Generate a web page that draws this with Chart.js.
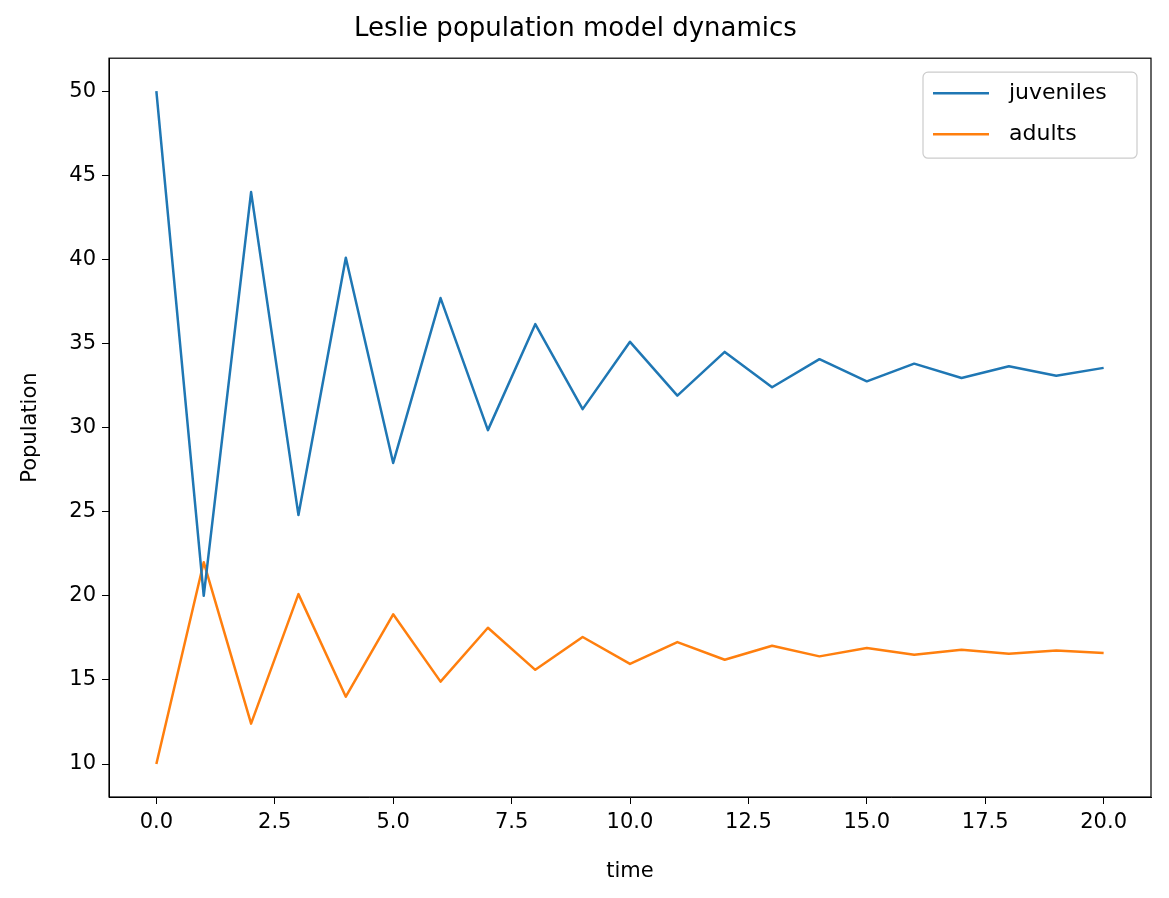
<!DOCTYPE html>
<html>
<head>
<meta charset="utf-8">
<script src="https://cdn.jsdelivr.net/npm/chart.js@4"></script>
<style>
  body { margin: 0; background: #fff; }
  #wrap { width: 1169px; height: 898px; }
</style>
</head>
<body>
<div id="wrap"><canvas id="leslie-chart"></canvas></div>
<script>
const FONT = "'DejaVu Sans', sans-serif";
const BLUE = "#1f77b4";
const ORANGE = "#ff7f0e";

const TIMES = [0, 1, 2, 3, 4, 5, 6, 7, 8, 9, 10, 11, 12, 13, 14, 15, 16, 17, 18, 19, 20];
const JUVENILES = [50, 20.0, 44.0, 24.8, 40.1, 27.9, 37.7, 29.85, 36.15, 31.1, 35.1, 31.9, 34.5, 32.4, 34.07, 32.75, 33.8, 32.95, 33.65, 33.08, 33.55];
const ADULTS = [10, 22.0, 12.4, 20.1, 14.0, 18.9, 14.9, 18.1, 15.6, 17.55, 15.95, 17.25, 16.2, 17.03, 16.4, 16.9, 16.5, 16.8, 16.55, 16.75, 16.6];
const X_TICKS = [0, 2.5, 5, 7.5, 10, 12.5, 15, 17.5, 20];
const Y_TICKS = [10, 15, 20, 25, 30, 35, 40, 45, 50];

function toPoints(values) {
    return TIMES.map((t, i) => ({ x: t, y: values[i] }));
}

// frame round the plot area and the legend box in its top right corner
const framePlugin = {
    id: "frame",
    afterDraw(chart) {
        const { ctx, chartArea: a } = chart;
        ctx.save();
        ctx.strokeStyle = "#000";
        ctx.lineWidth = 1.2;
        ctx.strokeRect(a.left, a.top, a.right - a.left, a.bottom - a.top);

        const boxW = 214, boxH = 86;
        const bx = a.right - 14 - boxW, by = a.top + 14;
        ctx.fillStyle = "rgba(255,255,255,0.8)";
        ctx.strokeStyle = "#ccc";
        ctx.lineWidth = 1.2;
        ctx.beginPath();
        ctx.roundRect(bx, by, boxW, boxH, 5);
        ctx.fill();
        ctx.stroke();
        ctx.font = "22px " + FONT;
        ctx.textBaseline = "middle";
        chart.data.datasets.forEach((ds, i) => {
            const y = by + 21 + i * 41;
            ctx.strokeStyle = ds.borderColor;
            ctx.lineWidth = 2.5;
            ctx.beginPath();
            ctx.moveTo(bx + 10, y);
            ctx.lineTo(bx + 66, y);
            ctx.stroke();
            ctx.fillStyle = "#000";
            ctx.fillText(ds.label, bx + 86, y);
        });
        ctx.restore();
    }
};

const ctx = document.querySelector("#leslie-chart").getContext("2d");
const configuration = {
    type: "line",
    data: {
        datasets: [
            { label: "juveniles", data: toPoints(JUVENILES), borderColor: BLUE, borderWidth: 2.5, borderJoinStyle: "round", pointRadius: 0, tension: 0 },
            { label: "adults", data: toPoints(ADULTS), borderColor: ORANGE, borderWidth: 2.5, borderJoinStyle: "round", pointRadius: 0, tension: 0 }
        ]
    },
    options: {
        responsive: true,
        maintainAspectRatio: false,
        animation: false,
        layout: { padding: { right: 18, left: 0, bottom: 0 } },
        scales: {
            x: {
                type: "linear",
                min: -1,
                max: 21,
                afterBuildTicks: (scale) => { scale.ticks = X_TICKS.map(v => ({ value: v })); },
                afterFit: (scale) => { scale.height = 101; },
                grid: { drawOnChartArea: false, drawTicks: true, tickLength: 7, color: "#000" },
                border: { display: true, color: "#000" },
                ticks: { color: "#000", font: { family: FONT, size: 21 }, padding: 6, maxRotation: 0,
                    callback: (v) => Number(v).toFixed(1) },
                title: { display: true, text: "time", color: "#000", font: { family: FONT, size: 21 }, padding: { top: 4, bottom: 14 } }
            },
            y: {
                min: 8.04,
                max: 51.96,
                afterBuildTicks: (scale) => { scale.ticks = Y_TICKS.map(v => ({ value: v })); },
                afterFit: (scale) => { scale.width = 109; },
                grid: { drawOnChartArea: false, drawTicks: true, tickLength: 7, color: "#000" },
                border: { display: true, color: "#000" },
                ticks: { color: "#000", font: { family: FONT, size: 21 }, padding: 6 },
                title: { display: true, text: "Population", color: "#000", font: { family: FONT, size: 21 }, padding: { top: 18, bottom: 8 } }
            }
        },
        plugins: {
            legend: { display: false },
            tooltip: { enabled: false },
            title: {
                display: true,
                text: "Leslie population model dynamics",
                color: "#000",
                font: { family: FONT, size: 26, weight: "normal" },
                padding: { top: 14, bottom: 13 }
            }
        }
    },
    plugins: [framePlugin]
};
new Chart(ctx, configuration);
</script>
</body>
</html>
